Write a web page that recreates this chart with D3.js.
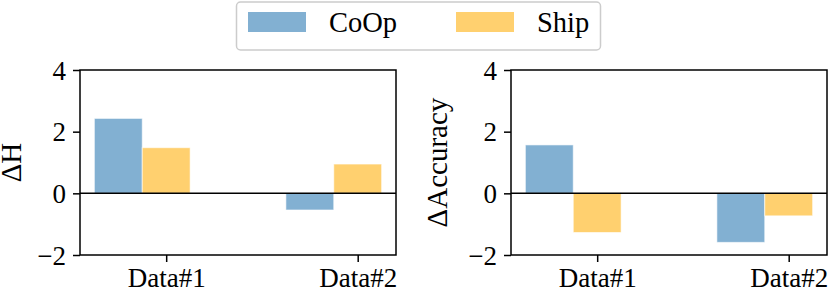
<!DOCTYPE html>
<html>
<head>
<meta charset="utf-8">
<script src="https://cdn.jsdelivr.net/npm/d3@7"></script>
<style>
  body { margin: 0; background: #fff; }
  svg { display: block; }
  text { font-family: "Liberation Serif", "Times New Roman", serif; fill: #000; }
</style>
</head>
<body>
<svg id="chart" width="830" height="296"></svg>
<script>
// data
var categories = ["Data#1", "Data#2"];
var seriesNames = ["CoOp", "Ship"];
var seriesColors = ["#82B0D2", "#FFD06F"];
var deltaH = [[2.43, -0.54], [1.48, 0.95]];
var deltaAcc = [[1.57, -1.59], [-1.27, -0.73]];
var yTicks = [-2, 0, 2, 4];

(function() {
var svg = d3.select("#chart"),
  barWidth = 0.25,
  tickFont = 27,
  labelFont = 29,
  plotTop = 70,
  plotBottom = 255;

var panels = [
  { label: "\u0394H", values: deltaH, left: 80, right: 396, labelX: 21 },
  { label: "\u0394Accuracy", values: deltaAcc, left: 511, right: 827, labelX: 447 }
];

var y = d3.scaleLinear()
  .domain([-2, 4])
  .range([plotBottom, plotTop]);

panels.forEach(function(p) {
  var x = d3.scaleLinear()
    .domain([-0.45, 1.2])
    .range([p.left, p.right]);

  var g = svg.append("g");

  // bars: CoOp centred at i - width, Ship centred on the tick
  p.values.forEach(function(vals, s) {
    g.selectAll(null)
      .data(vals)
      .enter()
      .append("rect")
        .attr("x", function(d, i) { return x(i - 1.5 * barWidth + s * barWidth); })
        .attr("width", x(barWidth) - x(0))
        .attr("y", function(d) { return Math.min(y(d), y(0)); })
        .attr("height", function(d) { return Math.abs(y(d) - y(0)); })
        .attr("fill", seriesColors[s])
        .attr("stroke", "#fff")
        .attr("stroke-opacity", 0.6)
        .attr("stroke-width", 1);
  });

  // zero line
  g.append("line")
    .attr("x1", p.left).attr("x2", p.right)
    .attr("y1", y(0)).attr("y2", y(0))
    .attr("stroke", "#000")
    .attr("stroke-width", 1.5);

  // axes
  var yAxis = d3.axisLeft(y)
    .tickValues(yTicks)
    .tickSize(7)
    .tickPadding(7)
    .tickFormat(function(d) { return d < 0 ? "\u2212" + Math.abs(d) : d; });

  var xAxis = d3.axisBottom(x)
    .tickValues([0, 1])
    .tickSize(7)
    .tickPadding(6)
    .tickFormat(function(d) { return categories[d]; });

  var ya = g.append("g")
    .attr("transform", "translate(" + p.left + ",0)")
    .call(yAxis);
  var xa = g.append("g")
    .attr("transform", "translate(0," + plotBottom + ")")
    .call(xAxis);

  [ya, xa].forEach(function(a) {
    a.select(".domain").remove();
    a.selectAll("line").attr("stroke", "#000").attr("stroke-width", 1.5);
    a.selectAll("text")
      .style("font-family", "'Liberation Serif', serif")
      .attr("font-size", tickFont)
      .attr("fill", "#000");
  });
  ya.selectAll("text").attr("dy", "0.34em");

  // frame
  g.append("rect")
    .attr("x", p.left).attr("y", plotTop)
    .attr("width", p.right - p.left).attr("height", plotBottom - plotTop)
    .attr("fill", "none")
    .attr("stroke", "#000")
    .attr("stroke-width", 1.5);

  g.append("text")
    .attr("transform", "translate(" + p.labelX + "," + (plotTop + plotBottom) / 2 + ") rotate(-90)")
    .attr("text-anchor", "middle")
    .attr("font-size", labelFont)
    .text(p.label);
});

// legend
var legend = svg.append("g");
legend.append("rect")
  .attr("x", 236.5).attr("y", 2)
  .attr("width", 364).attr("height", 48)
  .attr("rx", 4)
  .attr("fill", "#fff")
  .attr("stroke", "#cccccc")
  .attr("stroke-width", 1.5);

var legendX = [248, 456];
seriesNames.forEach(function(name, s) {
  legend.append("rect")
    .attr("x", legendX[s]).attr("y", 12)
    .attr("width", 58).attr("height", 20)
    .attr("fill", seriesColors[s]);
  legend.append("text")
    .attr("x", legendX[s] + 81).attr("y", 32)
    .attr("font-size", 28.5)
    .text(name);
});
})();
</script>
</body>
</html>
